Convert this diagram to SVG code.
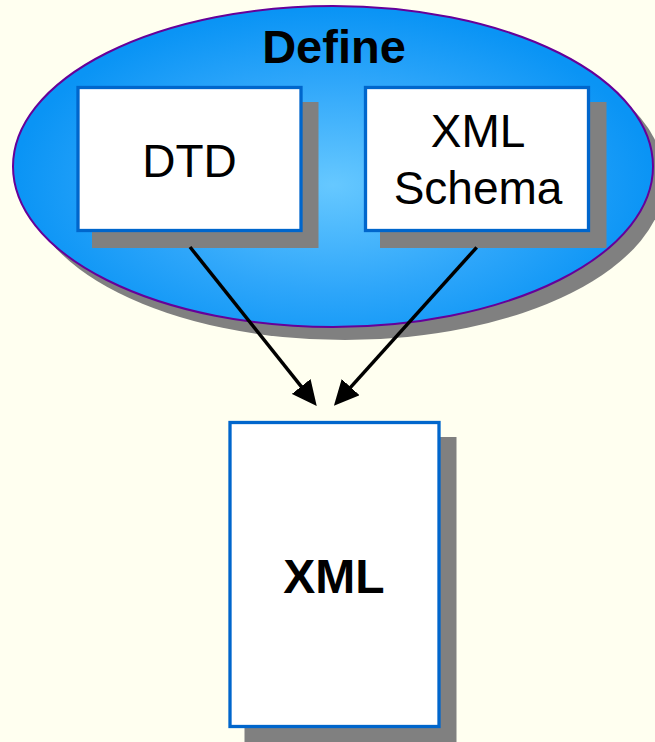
<svg xmlns="http://www.w3.org/2000/svg" width="655" height="742" viewBox="0 0 655 742">
<style>
.box{fill:#FFFFFF;stroke:#0066CC;stroke-width:3.3}
.shadow{fill:#808080}
.t{font-family:"Liberation Sans",Arial,sans-serif;fill:#000000;text-anchor:middle}
.conn{stroke:#000000;stroke-width:3.5;fill:none;marker-end:url(#arrow)}
</style>
<defs>
<radialGradient id="blue" cx="333" cy="185" r="320" gradientUnits="userSpaceOnUse" gradientTransform="translate(333 185) scale(1 0.55) translate(-333 -185)">
<stop offset="0" stop-color="#66C8FF"/>
<stop offset="0.6" stop-color="#2EA6FA"/>
<stop offset="1" stop-color="#0A94F5"/>
</radialGradient>
<marker id="arrow" markerUnits="userSpaceOnUse" viewBox="0 0 25 24" refX="15" refY="12" markerWidth="25" markerHeight="24" orient="auto">
<path d="M0,0 L25,12 L0,24 z" fill="#000000"/>
</marker>
</defs>
<rect width="655" height="742" fill="#FFFFF0"/>
<g id="define">
<ellipse cx="345" cy="179.5" rx="320" ry="160.5" class="shadow"/>
<ellipse cx="333" cy="166.5" rx="320" ry="160.5" fill="url(#blue)" stroke="#660099" stroke-width="2"/>
<text x="334" y="63" class="t" font-size="47" font-weight="bold">Define</text>
</g>
<g id="dtd">
<rect x="92" y="102" width="226.5" height="146" class="shadow"/>
<rect x="78" y="87.5" width="223" height="143" class="box"/>
<text x="189.5" y="177" class="t" font-size="46">DTD</text>
</g>
<g id="schema">
<rect x="380" y="102" width="226.5" height="146" class="shadow"/>
<rect x="365.5" y="87.5" width="223" height="143" class="box"/>
<text x="478" y="147" class="t" font-size="46">XML</text>
<text x="478" y="204" class="t" font-size="46">Schema</text>
</g>
<g id="xml">
<rect x="244.5" y="437" width="212" height="307" class="shadow"/>
<rect x="230" y="422.5" width="209" height="304" class="box"/>
<text x="334" y="593" class="t" font-size="48" font-weight="bold">XML</text>
</g>
<g id="connectors">
<line x1="190" y1="247" x2="310.5" y2="398.2" class="conn"/>
<line x1="476.7" y1="247.3" x2="340.6" y2="398.3" class="conn"/>
</g>
</svg>
